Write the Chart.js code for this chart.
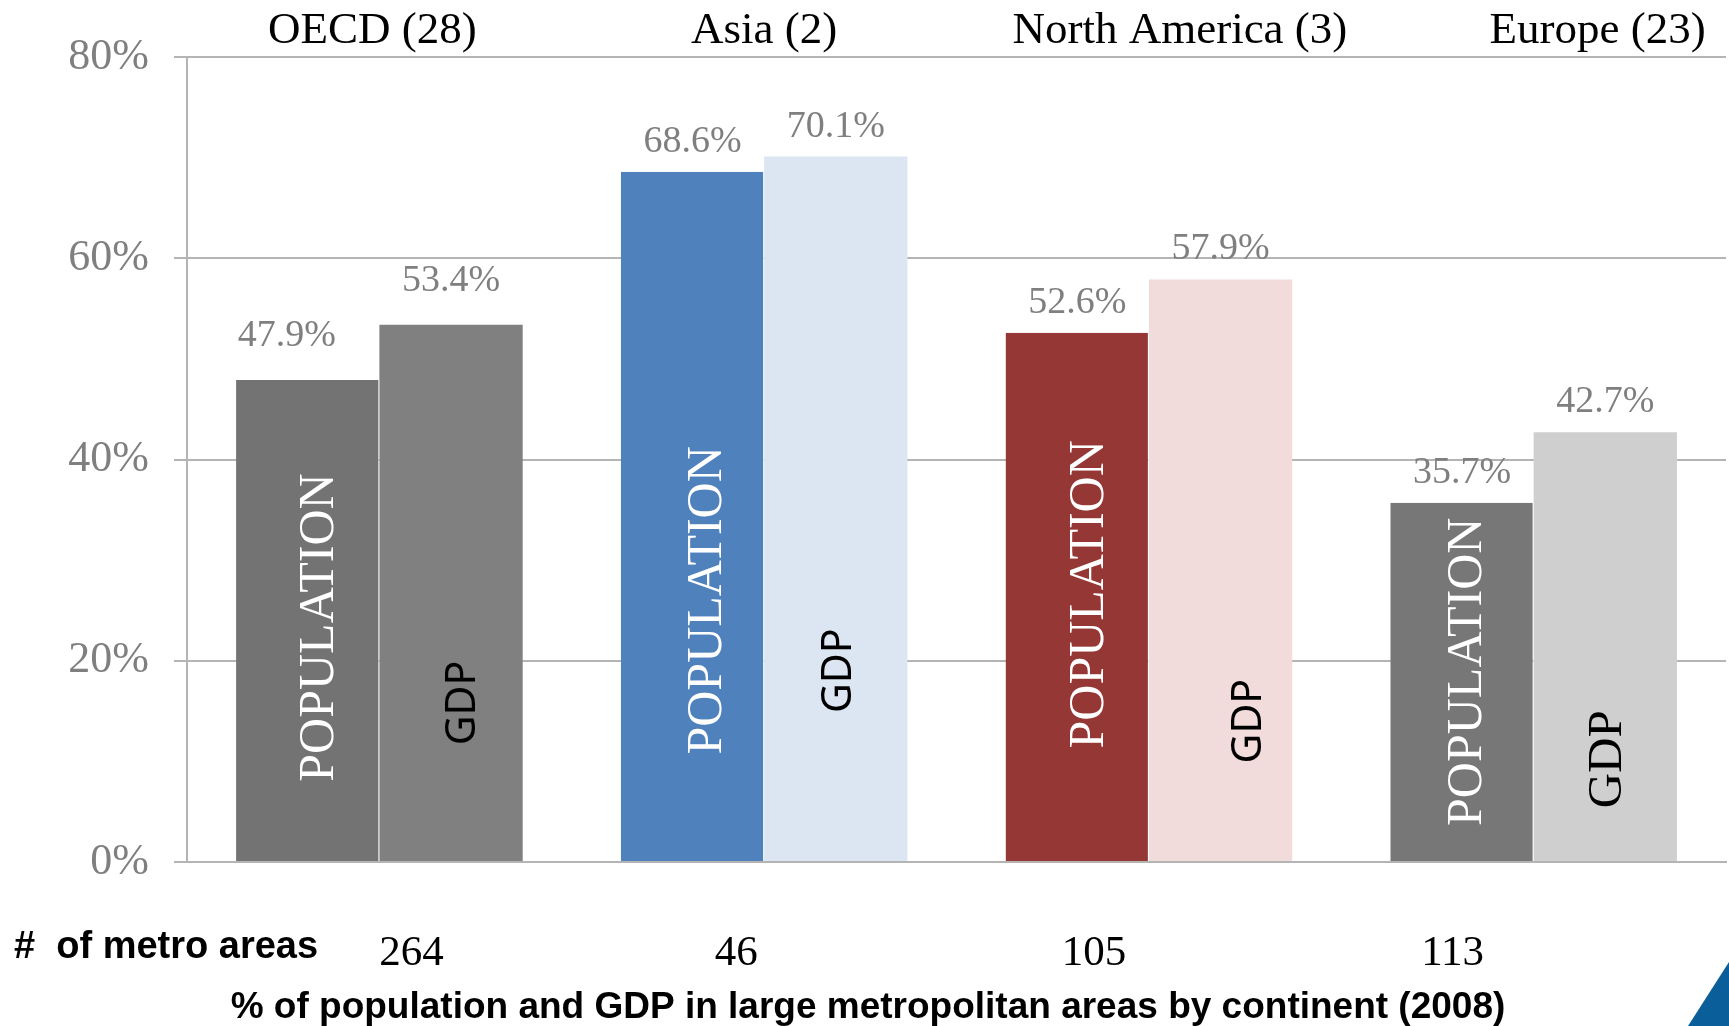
<!DOCTYPE html>
<html>
<head>
<meta charset="utf-8">
<script src="https://cdn.jsdelivr.net/npm/chart.js@4.4.0/dist/chart.umd.min.js"></script>
<style>
  html, body { margin: 0; padding: 0; background: #ffffff; }
  #wrap { width: 1729px; height: 1026px; position: relative; }
</style>
</head>
<body>
<div id="wrap"><canvas id="metroChart"></canvas></div>
<script>
// Data
const categories = ['OECD (28)', 'Asia (2)', 'North America (3)', 'Europe (23)'];
const populationShare = [47.9, 68.6, 52.6, 35.7];
const gdpShare = [53.4, 70.1, 57.9, 42.7];
const metroAreas = ['264', '46', '105', '113'];
const yTicks = [0, 20, 40, 60, 80];

// Colours per continent
const populationColors = ['#737373', '#4f81bd', '#953735', '#777777'];
const gdpColors = ['#808080', '#dce6f2', '#f2dcdb', '#cfcfcf'];

const SERIF = '"Liberation Serif", "Times New Roman", serif';
const SANS = '"Liberation Sans", Arial, sans-serif';

// Annotation layout (styling only, not data)
const LAYOUT = {
    headingShift: [-7, 0, 31, 64],        // px from category centre
    countShift: [32, -28, -55, -81],
    valueLift: [14, 0, 0, 0],             // extra lift above bar for value labels
    valueShiftPop: [-21, 0, 0, 0],
    popLabelAt: [23.3, 26.0, 26.6, 18.9],  // vertical centre of "POPULATION", in % units
    popShift: [12, 15, 13, 6],
    gdpLabelAt: [15.8, 19.0, 14.0, 10.2],
    gdpShift: [12, 4, 29, 3],
    gdpSerif: [false, false, false, true]
};

const annotations = {
    id: 'annotations',
    afterDatasetsDraw(chart) {
        const ctx = chart.ctx;
        const x = chart.scales.x;
        const y = chart.scales.y;
        const popBars = chart.getDatasetMeta(0).data;
        const gdpBars = chart.getDatasetMeta(1).data;
        ctx.save();

        // value labels above the bars
        ctx.font = '38px ' + SERIF;
        ctx.fillStyle = '#7f7f7f';
        ctx.textAlign = 'center';
        ctx.textBaseline = 'alphabetic';
        popBars.forEach((bar, i) => {
            ctx.fillText(populationShare[i].toFixed(1) + '%', bar.x + LAYOUT.valueShiftPop[i], bar.y - 20 - LAYOUT.valueLift[i]);
        });
        gdpBars.forEach((bar, i) => {
            ctx.fillText(gdpShare[i].toFixed(1) + '%', bar.x, bar.y - 20 - LAYOUT.valueLift[i]);
        });

        // rotated labels inside the bars
        ctx.textBaseline = 'middle';
        popBars.forEach((bar, i) => {
            ctx.save();
            ctx.translate(bar.x + LAYOUT.popShift[i], y.getPixelForValue(LAYOUT.popLabelAt[i]));
            ctx.rotate(-Math.PI / 2);
            ctx.font = '50px ' + SERIF;
            ctx.fillStyle = '#ffffff';
            ctx.fillText('POPULATION', 0, 0);
            ctx.restore();
        });
        gdpBars.forEach((bar, i) => {
            ctx.save();
            ctx.translate(bar.x + LAYOUT.gdpShift[i], y.getPixelForValue(LAYOUT.gdpLabelAt[i]));
            ctx.rotate(-Math.PI / 2);
            ctx.font = LAYOUT.gdpSerif[i] ? '49px ' + SERIF : '41px "Noto Sans", ' + SANS;
            ctx.fillStyle = '#000000';
            ctx.fillText('GDP', 0, 0);
            ctx.restore();
        });

        // continent headings
        ctx.textBaseline = 'alphabetic';
        ctx.font = '45px ' + SERIF;
        ctx.fillStyle = '#000000';
        categories.forEach((c, i) => {
            ctx.fillText(c, x.getPixelForValue(i) + LAYOUT.headingShift[i], 43);
        });

        // metro area counts
        ctx.font = '43px ' + SERIF;
        metroAreas.forEach((n, i) => {
            ctx.fillText(n, x.getPixelForValue(i) + LAYOUT.countShift[i], 965);
        });

        ctx.font = 'bold 38px ' + SANS;
        ctx.textAlign = 'left';
        ctx.fillText('#  of metro areas', 14, 958);

        ctx.textAlign = 'center';
        ctx.font = 'bold 37px ' + SANS;
        ctx.fillText('% of population and GDP in large metropolitan areas by continent (2008)', 868, 1018);

        // corner decoration
        ctx.fillStyle = '#0a5e9a';
        ctx.beginPath();
        ctx.moveTo(chart.width - 41, chart.height);
        ctx.lineTo(chart.width, chart.height - 64);
        ctx.lineTo(chart.width, chart.height);
        ctx.closePath();
        ctx.fill();

        ctx.restore();
    }
};

const ctx = document.getElementById('metroChart').getContext('2d');

const config = {
    type: 'bar',
    data: {
        labels: categories,
        datasets: [
            {
                label: 'Population',
                data: populationShare,
                backgroundColor: populationColors,
                borderColor: '#ffffff',
                borderWidth: { top: 0, right: 1, bottom: 0, left: 0 },
                borderSkipped: false,
                categoryPercentage: 0.745,
                barPercentage: 1.0
            },
            {
                label: 'GDP',
                data: gdpShare,
                backgroundColor: gdpColors,
                borderWidth: 0,
                categoryPercentage: 0.745,
                barPercentage: 1.0
            }
        ]
    },
    options: {
        responsive: true,
        maintainAspectRatio: false,
        animation: false,
        layout: { padding: { top: 57, bottom: 164, left: 0, right: 3 } },
        scales: {
            x: {
                grid: { display: false },
                border: { display: true, color: '#b4b4b4', width: 2 },
                ticks: { display: false },
                afterFit: (scale) => { scale.height = 0; }
            },
            y: {
                min: 0,
                max: 80,
                afterBuildTicks: (scale) => { scale.ticks = yTicks.map(v => ({ value: v })); },
                afterFit: (scale) => { scale.width = 187; },
                grid: { color: '#b4b4b4', lineWidth: 2, tickLength: 13, drawTicks: true },
                border: { display: true, color: '#b4b4b4', width: 2 },
                ticks: {
                    padding: 25,
                    color: '#7f7f7f',
                    font: { family: SERIF, size: 44 },
                    callback: (v) => v + '%'
                }
            }
        },
        plugins: {
            legend: { display: false },
            tooltip: { enabled: false },
            title: { display: false }
        }
    },
    plugins: [annotations]
};

const metroChart = new Chart(ctx, config);
</script>
</body>
</html>
